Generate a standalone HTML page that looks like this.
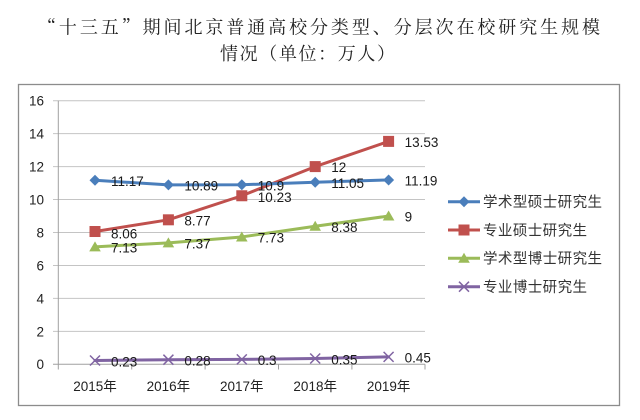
<!DOCTYPE html>
<html><head><meta charset="utf-8"><style>
html,body{margin:0;padding:0;background:#fff;}
svg{display:block;}
</style></head><body>
<svg width="640" height="420" viewBox="0 0 640 420" xmlns="http://www.w3.org/2000/svg">
<rect x="0" y="0" width="640" height="420" fill="#fff"/>
<g font-family="'Noto Serif CJK SC','Liberation Serif',serif" font-size="18" fill="#222">
<text x="38" y="33.5" textLength="562" lengthAdjust="spacing">“十三五”期间北京普通高校分类型、分层次在校研究生规模</text>
<text x="220" y="60" textLength="175" lengthAdjust="spacing">情况（单位：万人）</text>
</g>
<rect x="18.5" y="84.5" width="601" height="321" fill="#fff" stroke="#8c8c8c" stroke-width="1.3"/>
<!-- gridlines -->
<g stroke="#c4c4c4" stroke-width="1">
<line x1="53" y1="100.7" x2="425" y2="100.7"/>
<line x1="53" y1="133.65" x2="425" y2="133.65"/>
<line x1="53" y1="166.6" x2="425" y2="166.6"/>
<line x1="53" y1="199.55" x2="425" y2="199.55"/>
<line x1="53" y1="232.5" x2="425" y2="232.5"/>
<line x1="53" y1="265.45" x2="425" y2="265.45"/>
<line x1="53" y1="298.4" x2="425" y2="298.4"/>
<line x1="53" y1="331.35" x2="425" y2="331.35"/>
</g>
<g stroke="#a0a0a0" stroke-width="1">
<line x1="58.3" y1="100.7" x2="58.3" y2="364.3"/>
<line x1="53" y1="364.3" x2="425" y2="364.3"/>
<line x1="58.3" y1="364.3" x2="58.3" y2="369.5"/>
<line x1="131.7" y1="364.3" x2="131.7" y2="369.5"/>
<line x1="205.1" y1="364.3" x2="205.1" y2="369.5"/>
<line x1="278.5" y1="364.3" x2="278.5" y2="369.5"/>
<line x1="351.9" y1="364.3" x2="351.9" y2="369.5"/>
<line x1="425" y1="364.3" x2="425" y2="369.5"/>
</g>
<!-- y labels -->
<g font-family="'Liberation Sans',sans-serif" font-size="13.5" fill="#222" text-anchor="end">
<text x="44" y="105.5">16</text>
<text x="44" y="138.5">14</text>
<text x="44" y="171.5">12</text>
<text x="44" y="204.5">10</text>
<text x="44" y="237.5">8</text>
<text x="44" y="270.5">6</text>
<text x="44" y="303.5">4</text>
<text x="44" y="336.5">2</text>
<text x="44" y="369">0</text>
</g>
<!-- x labels -->
<g font-family="'Liberation Sans','Noto Sans CJK SC',sans-serif" font-size="13.5" fill="#222" text-anchor="middle">
<text x="95" y="391">2015年</text>
<text x="168.4" y="391">2016年</text>
<text x="241.8" y="391">2017年</text>
<text x="315.2" y="391">2018年</text>
<text x="388.6" y="391">2019年</text>
</g>
<!-- series lines -->
<g fill="none" stroke-width="3" stroke-linejoin="round" stroke-linecap="round">
<polyline stroke="#8064A2" points="95,360.51 168.4,359.69 241.8,359.36 315.2,358.53 388.6,356.89"/>
<polyline stroke="#9BBB59" points="95,246.83 168.4,242.88 241.8,236.95 315.2,226.24 388.6,216.02"/>
<polyline stroke="#C0504D" points="95,231.51 168.4,219.81 241.8,195.76 315.2,166.6 388.6,141.39"/>
<polyline stroke="#4A7EBB" points="95,180.27 168.4,184.89 241.8,184.73 315.2,182.25 388.6,179.94"/>
</g>
<!-- markers -->
<defs>
<path id="dia" d="M0,-5.5 L5.5,0 L0,5.5 L-5.5,0 Z" fill="#4A7EBB"/>
<rect id="sq" x="-5.5" y="-5.5" width="11" height="11" fill="#C0504D"/>
<path id="tri" d="M0,-5.5 L5.8,4.5 L-5.8,4.5 Z" fill="#9BBB59"/>
<path id="xx" d="M-5,-5 L5,5 M-5,5 L5,-5" stroke="#8064A2" stroke-width="1.5" fill="none"/>
</defs>
<use href="#xx" x="95" y="360.51"/><use href="#xx" x="168.4" y="359.69"/><use href="#xx" x="241.8" y="359.36"/><use href="#xx" x="315.2" y="358.53"/><use href="#xx" x="388.6" y="356.89"/>
<use href="#tri" x="95" y="246.83"/><use href="#tri" x="168.4" y="242.88"/><use href="#tri" x="241.8" y="236.95"/><use href="#tri" x="315.2" y="226.24"/><use href="#tri" x="388.6" y="216.02"/>
<use href="#sq" x="95" y="231.51"/><use href="#sq" x="168.4" y="219.81"/><use href="#sq" x="241.8" y="195.76"/><use href="#sq" x="315.2" y="166.6"/><use href="#sq" x="388.6" y="141.39"/>
<use href="#dia" x="95" y="180.27"/><use href="#dia" x="168.4" y="184.89"/><use href="#dia" x="241.8" y="184.73"/><use href="#dia" x="315.2" y="182.25"/><use href="#dia" x="388.6" y="179.94"/>
<!-- data labels -->
<g font-family="'Liberation Sans',sans-serif" font-size="13.5" fill="#1a1a1a">
<text x="111" y="186">11.17</text>
<text x="184.4" y="190.5">10.89</text>
<text x="257.8" y="190.5">10.9</text>
<text x="331.2" y="188">11.05</text>
<text x="404.6" y="185.5">11.19</text>
<text x="111" y="238.5">8.06</text>
<text x="184.4" y="225.5">8.77</text>
<text x="257.8" y="202">10.23</text>
<text x="331.2" y="172">12</text>
<text x="404.6" y="147">13.53</text>
<text x="111" y="252.5">7.13</text>
<text x="184.4" y="248.5">7.37</text>
<text x="257.8" y="242.5">7.73</text>
<text x="331.2" y="232">8.38</text>
<text x="404.6" y="221.5">9</text>
<text x="111" y="366.5">0.23</text>
<text x="184.4" y="365.5">0.28</text>
<text x="257.8" y="365">0.3</text>
<text x="331.2" y="364.5">0.35</text>
<text x="404.6" y="362.5">0.45</text>
</g>
<!-- legend -->
<g stroke-width="3">
<line x1="448" y1="201.7" x2="480" y2="201.7" stroke="#4A7EBB"/>
<line x1="448" y1="230" x2="480" y2="230" stroke="#C0504D"/>
<line x1="448" y1="258.3" x2="480" y2="258.3" stroke="#9BBB59"/>
<line x1="448" y1="286.7" x2="480" y2="286.7" stroke="#8064A2"/>
</g>
<use href="#dia" x="464" y="201.7"/>
<use href="#sq" x="464" y="230"/>
<use href="#tri" x="464" y="258.3"/>
<use href="#xx" x="464" y="286.7"/>
<g font-family="'Liberation Sans','Noto Sans CJK SC',sans-serif" font-size="14.5" fill="#333">
<text x="483" y="207" textLength="119" lengthAdjust="spacing">学术型硕士研究生</text>
<text x="483" y="235.3" textLength="104" lengthAdjust="spacing">专业硕士研究生</text>
<text x="483" y="263.6" textLength="119" lengthAdjust="spacing">学术型博士研究生</text>
<text x="483" y="292" textLength="104" lengthAdjust="spacing">专业博士研究生</text>
</g>
</svg>
</body></html>
